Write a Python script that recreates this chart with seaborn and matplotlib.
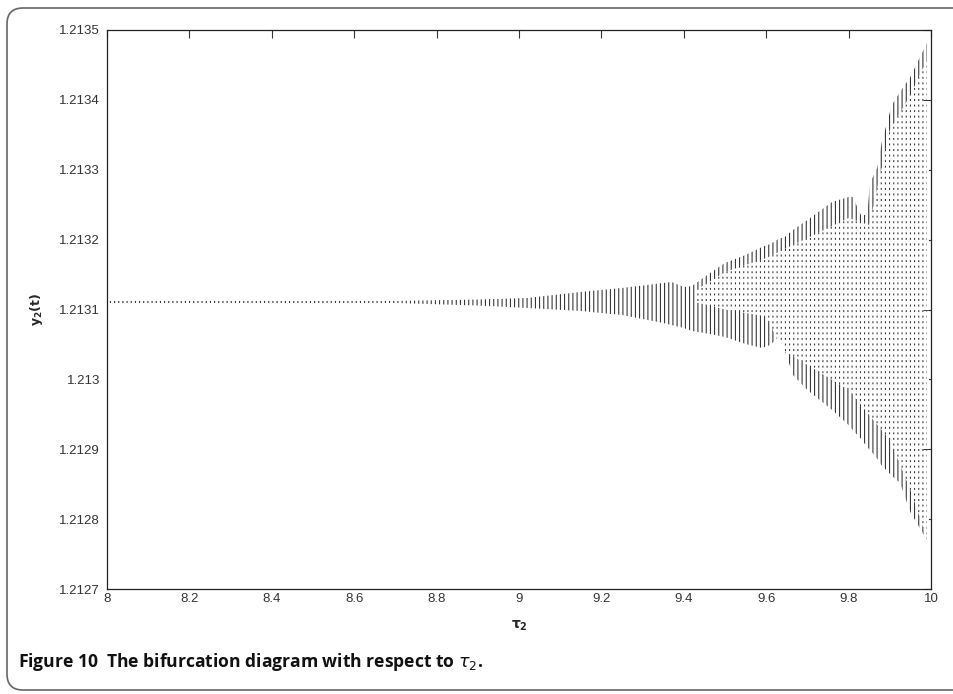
import numpy as np
import matplotlib
matplotlib.use("Agg")
import matplotlib.pyplot as plt
import matplotlib.ticker as mticker
from matplotlib.path import Path
from matplotlib.patches import PathPatch
import seaborn as sns

# envelope of the bifurcation diagram
tau = [8.00, 8.70, 8.90, 9.02, 9.15, 9.25, 9.35, 9.37, 9.40, 9.42, 9.45,
       9.50, 9.55, 9.59, 9.61, 9.63, 9.645, 9.665, 9.70, 9.76, 9.80, 9.81,
       9.83, 9.845, 9.852, 9.87, 9.88, 9.905, 9.925, 9.95, 9.97, 9.99]
y_upper = [1.2131122, 1.2131122, 1.2131143, 1.2131165, 1.2131251, 1.2131308,
           1.2131379, 1.2131394, 1.2131322, 1.2131336, 1.2131465, 1.2131666,
           1.2131780, 1.2131895, 1.2131937, 1.2132009, 1.2132038, 1.2132138,
           1.2132281, 1.2132539, 1.2132610, 1.2132610, 1.2132352, 1.2132352,
           1.2132810, 1.2133039, 1.2133383, 1.2133927, 1.2134113, 1.2134327,
           1.2134571, 1.2134814]
y_lower = [1.2131093, 1.2131093, 1.2131057, 1.2131022, 1.2130979, 1.2130921,
           1.2130807, 1.2130778, 1.2130735, 1.2130692, 1.2130664, 1.2130607,
           1.2130506, 1.2130449, 1.2130492, 1.2130607, 1.2130420, 1.2130063,
           1.2129848, 1.2129562, 1.2129347, 1.2129276, 1.2129150, 1.2129032,
           1.2128990, 1.2128860, 1.2128770, 1.2128620, 1.2128517, 1.2128100,
           1.2127900, 1.2127701]

# inner part where the orbits show as scattered dots
tau_dots = [9.43, 9.50, 9.60, 9.64, 9.70, 9.80, 9.85, 9.90, 9.95, 9.995]
dots_upper = [1.2131279, 1.2131537, 1.2131737, 1.2131852, 1.2132023,
              1.2132310, 1.2132209, 1.2133569, 1.2134070, 1.2134642]
dots_lower = [1.2131100, 1.2131000, 1.2130900, 1.2130420, 1.2130206,
              1.2129848, 1.2129490, 1.2129132, 1.2128417, 1.2127630]

xticks = [8, 8.2, 8.4, 8.6, 8.8, 9, 9.2, 9.4, 9.6, 9.8, 10]
xlabels = ["8", "8.2", "8.4", "8.6", "8.8", "9", "9.2", "9.4", "9.6", "9.8", "10"]
yticks = [1.2127, 1.2128, 1.2129, 1.2130, 1.2131, 1.2132, 1.2133, 1.2134, 1.2135]
ylabels = ["1.2127", "1.2128", "1.2129", "1.213", "1.2131", "1.2132",
           "1.2133", "1.2134", "1.2135"]

sns.set_theme(style="white")
plt.rcParams["font.family"] = ["Liberation Sans", "DejaVu Sans"]
plt.rcParams["mathtext.fontset"] = "dejavusans"

W, H = 954, 694
fig = plt.figure(figsize=(W / 100, H / 100), dpi=100)
ax = fig.add_axes([107 / W, 1 - 589 / H, 824 / W, 559 / H])

# vertical stripes of the diagram
with plt.rc_context({"hatch.linewidth": 0.75, "hatch.color": "#2b2b2b"}):
    stripes = ax.fill_between(tau, y_lower, y_upper, facecolor="none",
                              edgecolor="#2b2b2b", linewidth=0, hatch="||||")
if hasattr(stripes, "set_hatch_linewidth"):
    stripes.set_hatch_linewidth(0.75)

# break stripes into dots in the chaotic part
with plt.rc_context({"hatch.linewidth": 2.6, "hatch.color": "white"}):
    gaps = ax.fill_between(tau_dots, dots_lower, dots_upper, facecolor="none",
                           edgecolor="white", linewidth=0, hatch="---")
if hasattr(gaps, "set_hatch_linewidth"):
    gaps.set_hatch_linewidth(2.6)

ax.set_xlim(8, 10)
ax.set_ylim(1.2127, 1.2135)
ax.xaxis.set_major_locator(mticker.FixedLocator(xticks))
ax.xaxis.set_major_formatter(mticker.FixedFormatter(xlabels))
ax.yaxis.set_major_locator(mticker.FixedLocator(yticks))
ax.yaxis.set_major_formatter(mticker.FixedFormatter(ylabels))
ax.tick_params(direction="in", length=6, width=0.8, colors="#333333",
               labelsize=9.5, top=True, right=True, pad=5)
ax.tick_params(axis="x", pad=3)
for s in ax.spines.values():
    s.set_color("#222222")
    s.set_linewidth(0.9)
ax.set_facecolor("white")

ax.set_xlabel(r"$\mathbf{\tau_2}$", fontsize=10, labelpad=10)
ax.set_ylabel(r"$\mathbf{y_2(t)}$", fontsize=9, labelpad=10)

# open frame with rounded left corners, runs off the right edge
r = 16
x0, top, bot, x1 = 7, H - 8, 4, W + 20
verts = [(x1, top), (x0 + r, top), (x0, top), (x0, top - r),
         (x0, bot + r), (x0, bot), (x0 + r, bot), (x1, bot)]
codes = [Path.MOVETO, Path.LINETO, Path.CURVE3, Path.CURVE3,
         Path.LINETO, Path.CURVE3, Path.CURVE3, Path.LINETO]
verts = [(vx / W, vy / H) for vx, vy in verts]
frame = PathPatch(Path(verts, codes), transform=fig.transFigure,
                  facecolor="none", edgecolor="#666666", linewidth=1.2)
fig.patches.append(frame)

fig.text(18 / W, 1 - 662 / H,
         r"Figure 10  The bifurcation diagram with respect to $\tau_2$.",
         fontsize=12.6, fontweight="bold", family=["Open Sans", "DejaVu Sans"],
         va="center", ha="left", color="#111111")

fig.savefig("out.png", dpi=100)
